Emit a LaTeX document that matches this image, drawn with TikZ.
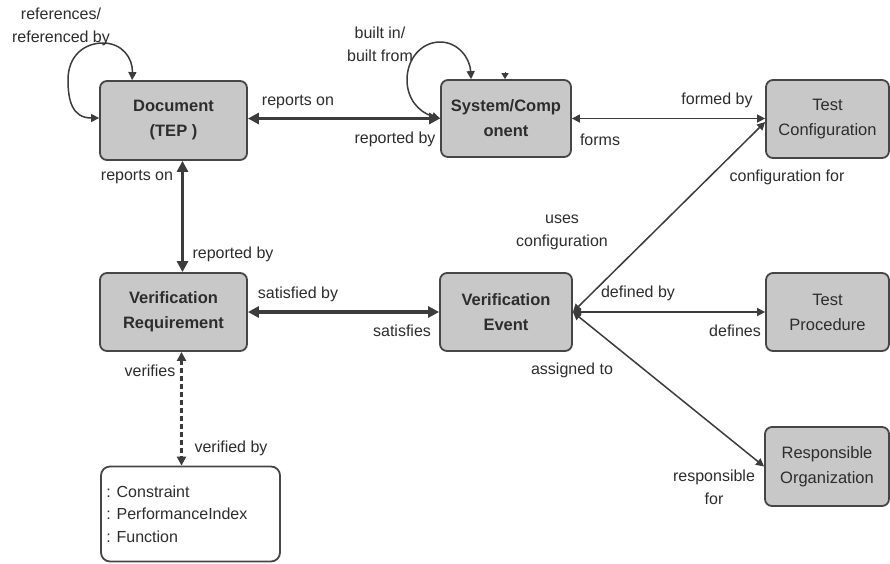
\documentclass[tikz,border=0pt]{standalone}
\usepackage{fontspec}
\setmainfont{Liberation Sans}
\usetikzlibrary{arrows.meta}
\definecolor{boxfill}{RGB}{200,200,200}
\definecolor{edgecol}{RGB}{70,70,70}
\definecolor{linecol}{RGB}{60,60,60}
\definecolor{txt}{RGB}{45,45,45}
\begin{document}
\begin{tikzpicture}[x=1pt,y=-1pt,
  ent/.style={draw=edgecol, line width=1.8pt, fill=boxfill, rounded corners=7pt, align=center, inner sep=0pt, text=txt, font=\fontsize{16.5}{25}\selectfont},
  entb/.style={ent, font=\fontsize{16.5}{25}\selectfont\bfseries},
  lbl/.style={font=\fontsize{16}{23}\selectfont, text=txt, inner sep=0pt, align=center},
  thicklink/.style={line width=3.2pt, draw=linecol, {Triangle[length=11pt,width=11pt]}-{Triangle[length=11pt,width=11pt]}},
  thinlink/.style={line width=1.5pt, draw=linecol, {Triangle[length=8pt,width=8pt]}-{Triangle[length=8pt,width=8pt]}},
  dashlink/.style={line width=2.4pt, draw=linecol, dash pattern=on 5pt off 3pt, {Triangle[length=9pt,width=9pt]}-{Triangle[length=9pt,width=9pt]}}
]
\useasboundingbox (0,0) rectangle (890,563);
\fill[white] (0,0) rectangle (890,563);

% entities
\node[entb, minimum width=147pt, minimum height=79pt] (doc) at (173.5,120.5) {Document\\(TEP )};
\node[entb, minimum width=130pt, minimum height=77pt] (sys) at (506,118.5) {System/Comp\\onent};
\node[ent, minimum width=123pt, minimum height=78pt] (tc) at (827.5,119) {Test\\Configuration};
\node[entb, minimum width=147pt, minimum height=78pt] (req) at (173.5,312) {Verification\\Requirement};
\node[entb, minimum width=132pt, minimum height=78pt] (ve) at (506,312) {Verification\\Event};
\node[ent, minimum width=123pt, minimum height=78pt] (tp) at (827.5,312) {Test\\Procedure};
\node[ent, minimum width=124pt, minimum height=79pt] (ro) at (827,466.5) {Responsible\\Organization};
\node[draw=edgecol, line width=1.8pt, fill=white, rounded corners=9pt, minimum width=179pt, minimum height=95pt, inner sep=0pt] (fb) at (190.5,514) {};
\node[lbl, align=left, anchor=west, font=\fontsize{16}{22.5}\selectfont] (fbt) at ([xshift=6pt]fb.west) {: Constraint\\: PerformanceIndex\\: Function};

% connectors
\draw[thicklink] (doc.east |- sys.west) -- (sys.west);
\draw[thinlink] (sys.east) -- (sys.east -| tc.west);
\draw[thicklink] ([xshift=9pt]doc.south) -- ([xshift=9pt]doc.south |- req.north);
\draw[thicklink] (req.east) -- (ve.west);
\draw[dashlink] ([xshift=8pt]req.south) -- ([xshift=8pt]req.south |- fb.north);
\draw[thinlink] (ve.east) -- ([yshift=-3pt]tc.west);
\draw[thinlink] (ve.east) -- (tp.west);
\draw[thinlink] (ve.east) -- (ro.west);

% self loops
\draw[thinlink] ([yshift=2.5pt]doc.west) .. controls (72,118) and (68,100) .. (68,80)
  .. controls (68,55) and (85,43) .. (103,43)
  .. controls (122,43) and (133,58) .. ([xshift=33pt]doc.north west);
\draw[thinlink] (sys.west) .. controls (418,112) and (407,98) .. (407,80)
  .. controls (407,58) and (422,42) .. (440,42)
  .. controls (458,42) and (470,58) .. ([xshift=31pt]sys.north west);
\coordinate (stub) at (505,72);
\draw[line width=1pt, draw=linecol, -{Triangle[length=6pt,width=7pt]}] (stub) -- (stub |- sys.north);

% labels
\node[lbl] (l1) at (61,27) {references/\\referenced by};
\node[lbl] (l2) at (380,44) {built in/\\built from};
\node[lbl] (l3) at (298,102) {reports on};
\node[lbl] (l4) at (395,139) {reported by};
\node[lbl] (l5) at (717,100) {formed by};
\node[lbl] (l6) at (600,140) {forms};
\node[lbl] (l7) at (787,177) {configuration for};
\node[lbl] (l8) at (137,177) {reports on};
\node[lbl] (l9) at (233,254) {reported by};
\node[lbl] (l10) at (562,232) {uses\\configuration};
\node[lbl] (l11) at (298,294) {satisfied by};
\node[lbl] (l12) at (402,331) {satisfies};
\node[lbl] (l13) at (638,293) {defined by};
\node[lbl] (l14) at (735,331) {defines};
\node[lbl] (l15) at (572,370) {assigned to};
\node[lbl] (l16) at (150,371) {verifies};
\node[lbl] (l17) at (231,448) {verified by};
\node[lbl] (l18) at (714,487) {responsible\\for};
\end{tikzpicture}
\end{document}
